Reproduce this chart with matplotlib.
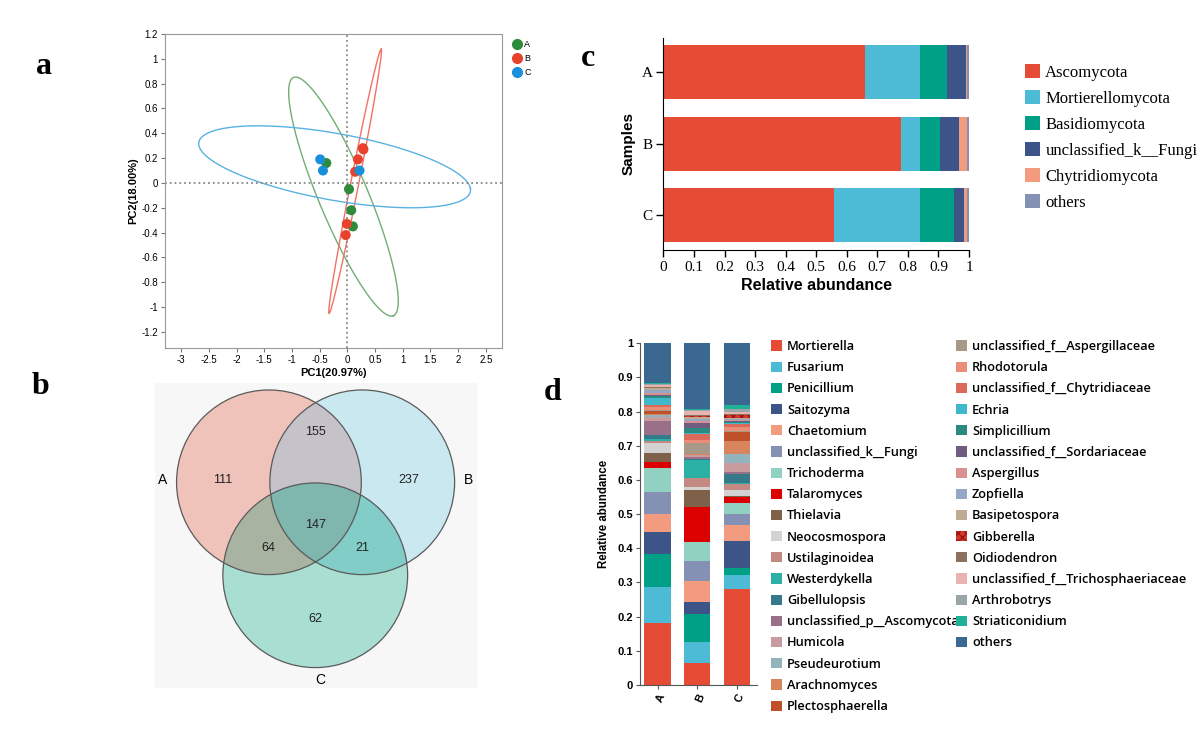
import matplotlib
matplotlib.use("Agg")
import matplotlib.pyplot as plt
import numpy as np
from matplotlib.patches import Patch, Circle
from matplotlib.lines import Line2D

W, H = 1200, 735
fig = plt.figure(figsize=(12, 7.35), dpi=100)
SERIF = "Liberation Serif"
SANS = "Liberation Sans"


def px_axes(l, t, r, b):
    """Axes placed with pixel edges (left, top, right, bottom)."""
    return fig.add_axes([l / W, 1 - b / H, (r - l) / W, (b - t) / H])


# ---- panel a: PCA scores
groups = ["A", "B", "C"]
group_colors = ["#2e8b3a", "#e8412c", "#1a8fdc"]
ellipse_colors = ["#72ad72", "#f07262", "#5ab2e2"]
pc1_A = [-0.38, 0.03, 0.07, 0.10]
pc2_A = [0.16, -0.05, -0.22, -0.35]
pc1_B = [0.28, 0.29, 0.19, 0.14, -0.01, -0.03]
pc2_B = [0.28, 0.27, 0.19, 0.09, -0.33, -0.42]
pc1_C = [-0.49, -0.44, 0.22]
pc2_C = [0.19, 0.10, 0.10]
# confidence ellipses: centre, semi-axis vector u, semi-axis vector v
ell_A = [-0.07, -0.11, 0.90, -0.96, 0.41, 0.077]
ell_B = [0.14, 0.013, 0.47, 1.065, 0.071, -0.006]
ell_C = [-0.23, 0.13, 2.45, -0.175, -0.10, 0.28]

# ---- panel b: Venn counts
venn_counts = {"A": 111, "AB": 155, "B": 237, "ABC": 147, "AC": 64, "BC": 21, "C": 62}

# ---- panel c: phylum level
phyla = ["Ascomycota", "Mortierellomycota", "Basidiomycota",
         "unclassified_k__Fungi", "Chytridiomycota", "others"]
phylum_colors = ["#e64b35", "#4dbbd5", "#00a087", "#3c5488", "#f39b7f", "#8491b4"]
phylum_A = [0.658, 0.183, 0.088, 0.061, 0.003, 0.007]
phylum_B = [0.776, 0.063, 0.066, 0.062, 0.027, 0.006]
phylum_C = [0.559, 0.282, 0.109, 0.032, 0.010, 0.008]

# ---- panel d: genus level
genera = ["Mortierella", "Fusarium", "Penicillium", "Saitozyma", "Chaetomium",
          "unclassified_k__Fungi", "Trichoderma", "Talaromyces", "Thielavia",
          "Neocosmospora", "Ustilaginoidea", "Westerdykella", "Gibellulopsis",
          "unclassified_p__Ascomycota", "Humicola", "Pseudeurotium", "Arachnomyces",
          "Plectosphaerella", "unclassified_f__Aspergillaceae", "Rhodotorula",
          "unclassified_f__Chytridiaceae", "Echria", "Simplicillium",
          "unclassified_f__Sordariaceae", "Aspergillus", "Zopfiella", "Basipetospora",
          "Gibberella", "Oidiodendron", "unclassified_f__Trichosphaeriaceae",
          "Arthrobotrys", "Striaticonidium", "others"]
genus_colors = ["#e64b35", "#4dbbd5", "#00a087", "#3c5488", "#f39b7f",
                "#8491b4", "#91d1c2", "#dc0000", "#7e6148", "#d3d3d3",
                "#c48a82", "#2ab0a5", "#357a8a", "#9a7088", "#c99a9e",
                "#92b4bc", "#d8855e", "#c0502a", "#a89888", "#eb8e78",
                "#dc6a5a", "#40b8cc", "#2a8a80", "#705c80", "#d99090",
                "#92a8c4", "#bfab94", "#d03a28", "#8c7060", "#e8b4b0",
                "#9aa6a8", "#20b098", "#3a6890"]
genus_A = [0.180, 0.108, 0.095, 0.064, 0.053, 0.065, 0.069, 0.019, 0.026, 0.028,
           0.007, 0.006, 0.012, 0.040, 0.012, 0.006, 0.004, 0.008,
           0.004, 0.008, 0.005, 0.022, 0.004, 0.005, 0.005, 0.008, 0.005, 0.002,
           0.003, 0.004, 0.004, 0.002, 0.117]
genus_B = [0.065, 0.062, 0.080, 0.037, 0.059, 0.061, 0.055, 0.102, 0.049, 0.010,
           0.027, 0.052, 0.002, 0.005, 0.006, 0.002, 0.001, 0.002,
           0.030, 0.010, 0.018, 0.003, 0.014, 0.015, 0.006, 0.006, 0.006, 0.002,
           0.003, 0.012, 0.003, 0.002, 0.193]
genus_C = [0.280, 0.042, 0.019, 0.079, 0.048, 0.032, 0.032, 0.017, 0.003, 0.019,
           0.017, 0.003, 0.027, 0.005, 0.026, 0.027, 0.039, 0.025,
           0.003, 0.012, 0.010, 0.002, 0.003, 0.002, 0.004, 0.002, 0.002, 0.009,
           0.004, 0.005, 0.010, 0.010, 0.182]

# ================= panel a =================
ax = px_axes(165, 34, 502, 348)
t = np.linspace(0, 2 * np.pi, 300)
for ell, col in zip([ell_A, ell_B, ell_C], ellipse_colors):
    cx, cy, ux, uy, vx, vy = ell
    ax.plot(cx + ux * np.cos(t) + vx * np.sin(t), cy + uy * np.cos(t) + vy * np.sin(t),
            color=col, lw=1.0)
ax.axhline(0, color="#888888", ls=":", lw=1.3)
ax.axvline(0, color="#888888", ls=":", lw=1.3)
for xs, ys, col in zip([pc1_A, pc1_B, pc1_C], [pc2_A, pc2_B, pc2_C], group_colors):
    ax.scatter(xs, ys, s=52, color=col, edgecolor="none", zorder=3)
ax.set_xlim(-3.29, 2.79)
ax.set_ylim(-1.33, 1.2)
ax.set_xticks(np.arange(-3, 2.51, 0.5))
ax.set_xticklabels(["-3", "-2.5", "-2", "-1.5", "-1", "-0.5", "0", "0.5", "1", "1.5", "2", "2.5"])
ax.set_yticks(np.round(np.arange(-1.2, 1.21, 0.2), 1))
ax.set_yticklabels(["-1.2", "-1", "-0.8", "-0.6", "-0.4", "-0.2", "0", "0.2", "0.4",
                    "0.6", "0.8", "1", "1.2"])
ax.tick_params(labelsize=7, length=3, color="#777777", pad=2)
for lab in ax.get_xticklabels() + ax.get_yticklabels():
    lab.set_fontfamily(SANS)
for sp in ax.spines.values():
    sp.set_color("#999999")
ax.set_xlabel("PC1(20.97%)", fontsize=8, fontweight="bold", family=SANS, labelpad=2)
ax.set_ylabel("PC2(18.00%)", fontsize=8, fontweight="bold", family=SANS, labelpad=2)
handles = [Line2D([], [], marker="o", ls="none", color=c, markersize=7) for c in group_colors]
ax.legend(handles, groups, loc="upper left", bbox_to_anchor=(1.005, 1.0), frameon=False,
          prop={"family": SANS, "size": 6.5}, handletextpad=0.0, labelspacing=0.55,
          borderpad=0.2, handlelength=1.6)

# ================= panel b =================
ax = px_axes(155, 383, 477, 688)
ax.set_facecolor("#f7f7f7")
xlim, ylim = (-1.73, 1.738), (-2.217, 1.07)
centres = {"A": (-0.503, 0.0), "B": (0.502, 0.0), "C": (-0.004, -1.002)}
rad = 0.995
gx, gy = np.meshgrid(np.linspace(xlim[0], xlim[1], 900), np.linspace(ylim[1], ylim[0], 860))
inside = {k: (gx - c[0]) ** 2 + (gy - c[1]) ** 2 <= rad ** 2 for k, c in centres.items()}
region_colors = {"": "#f7f7f7", "A": "#efc2ba", "B": "#cae8f0", "C": "#a9ded2",
                 "AB": "#c6c2ca", "AC": "#a8b3a2", "BC": "#82cdc8", "ABC": "#7fb6ae"}
img = np.ones(gx.shape + (3,))
for key, hexcol in region_colors.items():
    mask = np.ones(gx.shape, bool)
    for k in "ABC":
        mask &= inside[k] if k in key else ~inside[k]
    img[mask] = matplotlib.colors.to_rgb(hexcol)
ax.imshow(img, extent=[xlim[0], xlim[1], ylim[0], ylim[1]], interpolation="nearest",
          aspect="auto")
for k, c in centres.items():
    ax.add_patch(Circle(c, rad, fill=False, edgecolor="#5a5a5a", lw=0.9))
count_pos = {"A": (-1.0, 0.03), "AB": (0.0, 0.54), "B": (1.0, 0.03), "ABC": (0.0, -0.46),
             "AC": (-0.51, -0.71), "BC": (0.5, -0.71), "C": (0.0, -1.47)}
for key, n in venn_counts.items():
    ax.text(*count_pos[key], str(n), ha="center", va="center", fontsize=9, family=SANS,
            color="#222222")
ax.text(-1.65, 0.03, "A", ha="center", va="center", fontsize=10, family=SANS)
ax.text(1.65, 0.03, "B", ha="center", va="center", fontsize=10, family=SANS)
ax.text(0.05, -2.13, "C", ha="center", va="center", fontsize=10, family=SANS)
ax.set_xlim(*xlim)
ax.set_ylim(*ylim)
ax.axis("off")

# ================= panel c =================
ax = px_axes(663.5, 38, 969, 250)
samples = ["A", "B", "C"]
phylum_table = np.array([phylum_A, phylum_B, phylum_C])
left = np.zeros(3)
for j, name in enumerate(phyla):
    ax.barh(np.arange(3), phylum_table[:, j], left=left, height=0.755,
            color=phylum_colors[j], edgecolor="none", label=name)
    left += phylum_table[:, j]
ax.set_ylim(2.49, -0.48)
ax.set_xlim(0, 1)
ax.set_yticks(np.arange(3))
ax.set_yticklabels(samples)
ax.set_xticks(np.round(np.arange(0, 1.01, 0.1), 1))
ax.set_xticklabels(["0", "0.1", "0.2", "0.3", "0.4", "0.5", "0.6", "0.7", "0.8", "0.9", "1"])
ax.tick_params(labelsize=11, length=5, width=1, pad=3)
for lab in ax.get_xticklabels() + ax.get_yticklabels():
    lab.set_fontfamily(SERIF)
for s in ["top", "right"]:
    ax.spines[s].set_visible(False)
ax.set_xlabel("Relative abundance", fontsize=11.5, fontweight="bold", family=SANS, labelpad=3)
ax.set_ylabel("Samples", fontsize=11, fontweight="bold", family=SANS, labelpad=4)
ax.legend(loc="upper left", bbox_to_anchor=(1017 / W, 1 - 56 / H),
          bbox_transform=fig.transFigure, frameon=False, prop={"family": SERIF, "size": 12},
          handlelength=0.9, handleheight=0.9, handletextpad=0.3, labelspacing=0.56,
          borderpad=0)

# ================= panel d =================
ax = px_axes(640, 343.3, 757, 685)
genus_table = np.array([genus_A, genus_B, genus_C])
bottom = np.zeros(3)
bars = []
for j, name in enumerate(genera):
    hatch = "xxxx" if name == "Gibberella" else None
    b = ax.bar(np.arange(3), genus_table[:, j], bottom=bottom, width=0.66,
               color=genus_colors[j], edgecolor="#a01010" if hatch else "none",
               lw=0, hatch=hatch, label=name)
    bars.append(b)
    bottom += genus_table[:, j]
ax.set_xlim(-0.44, 2.5)
ax.set_ylim(0, 1)
ax.set_xticks(np.arange(3))
ax.set_xticklabels(samples, rotation=65, ha="right", rotation_mode="anchor")
ax.set_yticks(np.round(np.arange(0, 1.01, 0.1), 1))
ax.set_yticklabels(["0", "0.1", "0.2", "0.3", "0.4", "0.5", "0.6", "0.7", "0.8", "0.9", "1"])
ax.tick_params(labelsize=8, length=3, color="#555555", pad=2)
for lab in ax.get_xticklabels() + ax.get_yticklabels():
    lab.set_fontfamily(SANS)
    lab.set_fontweight("bold")
for s in ["top", "right"]:
    ax.spines[s].set_visible(False)
for s in ["left", "bottom"]:
    ax.spines[s].set_color("#555555")
ax.set_ylabel("Relative abundance", fontsize=8.3, fontweight="bold", family=SANS, labelpad=5)

leg_kw = dict(bbox_transform=fig.transFigure, frameon=False, loc="upper left",
              prop={"family": "Open Sans", "size": 9.2, "weight": "semibold"},
              handlelength=0.85, handleheight=0.85, handletextpad=0.4,
              labelspacing=0.64, borderpad=0, borderaxespad=0)
leg1 = ax.legend(bars[:18], genera[:18], bbox_to_anchor=(771 / W, 1 - 340 / H), **leg_kw)
ax.add_artist(leg1)
ax.legend(bars[18:], genera[18:], bbox_to_anchor=(956 / W, 1 - 340 / H), **leg_kw)

# ---- panel letters
for letter, (x, y) in {"a": (44, 66), "b": (40, 386), "c": (588, 59), "d": (553, 393)}.items():
    fig.text(x / W, 1 - y / H, letter, ha="center", va="center", fontsize=23,
             fontweight="bold", family=SERIF)

fig.savefig("out.png", dpi=100)
